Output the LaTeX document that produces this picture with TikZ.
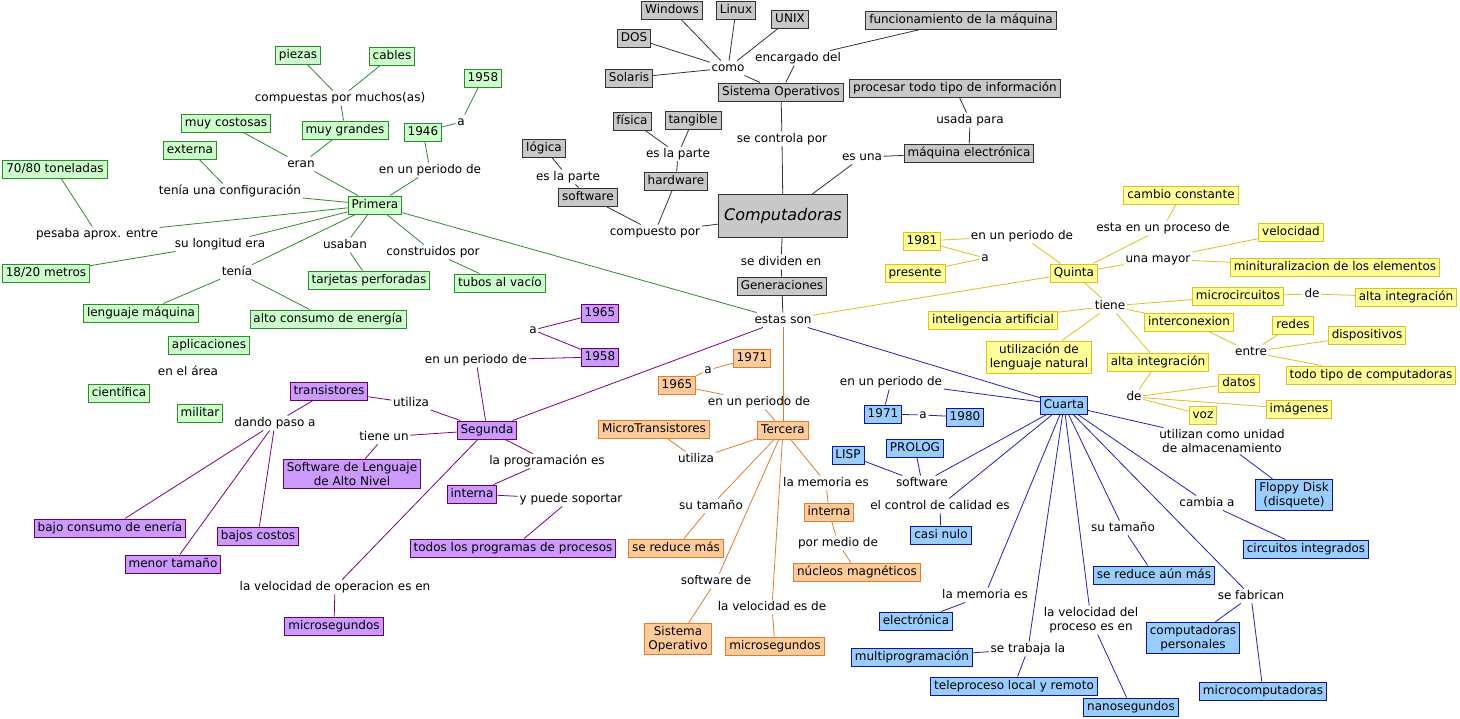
\documentclass[tikz,border=0pt]{standalone}
\usepackage{fontspec}
\setmainfont{DejaVu Sans}
\definecolor{grayF}{HTML}{C8C8C8}
\definecolor{grayD}{HTML}{333333}
\definecolor{greenF}{HTML}{CCFFCC}
\definecolor{greenD}{HTML}{2E8B2E}
\definecolor{yelF}{HTML}{FFFF99}
\definecolor{yelD}{HTML}{E3BE1C}
\definecolor{purF}{HTML}{CC99FF}
\definecolor{purD}{HTML}{660066}
\definecolor{purL}{HTML}{800080}
\definecolor{orF}{HTML}{FFCC99}
\definecolor{orD}{HTML}{E07B2F}
\definecolor{bluF}{HTML}{99CCFF}
\definecolor{bluD}{HTML}{10109A}
\definecolor{bluL}{HTML}{2020C0}
\tikzset{
  every node/.style={font=\fontsize{12}{14}\selectfont, text=black},
  box/.style={draw, rectangle, inner xsep=3.5pt, inner ysep=3.3pt, text height=9pt, text depth=2.5pt, line width=0.9pt},
  mbox/.style={draw, rectangle, inner xsep=3.5pt, inner ysep=3pt, align=center, line width=0.9pt},
  lab/.style={inner sep=1.5pt, text height=9pt, text depth=2.5pt},
  mlab/.style={inner sep=1.5pt, align=center},
  gbox/.style={box, fill=grayF, draw=grayD},
  grbox/.style={box, fill=greenF, draw=greenD},
  ybox/.style={box, fill=yelF, draw=yelD},
  ymbox/.style={mbox, fill=yelF, draw=yelD},
  pbox/.style={box, fill=purF, draw=purD},
  pmbox/.style={mbox, fill=purF, draw=purD},
  obox/.style={box, fill=orF, draw=orD},
  ombox/.style={mbox, fill=orF, draw=orD},
  bbox/.style={box, fill=bluF, draw=bluD},
  bmbox/.style={mbox, fill=bluF, draw=bluD},
  gline/.style={draw=grayD, line width=0.8pt},
  grline/.style={draw=greenD, line width=0.8pt},
  yline/.style={draw=yelD, line width=0.8pt},
  pline/.style={draw=purL, line width=0.8pt},
  oline/.style={draw=orD, line width=0.8pt},
  bline/.style={draw=bluL, line width=0.8pt},
}
\begin{document}
\begin{tikzpicture}[x=1pt, y=-1pt]
\path[use as bounding box, fill=white] (0,0) rectangle (1460,718);

% ---------- gray / central ----------
\node[gbox] (win) at (672,10) {Windows};
\node[gbox] (lin) at (736,10) {Linux};
\node[gbox] (unix) at (790,19) {UNIX};
\node[gbox] (dos) at (634,38) {DOS};
\node[gbox] (sol) at (629,78) {Solaris};
\node[lab] (como) at (728,68) {como};
\node[lab] (enc) at (798,58) {encargado del};
\node[gbox] (func) at (961,20) {funcionamiento de la máquina};
\node[gbox] (so) at (781,92) {Sistema Operativos};
\node[gbox] (proc) at (955,88) {procesar todo tipo de información};
\node[lab] (usada) at (970,120) {usada para};
\node[gbox] (maq) at (969,153) {máquina electrónica};
\node[lab] (esuna) at (862,157) {es una};
\node[lab] (secon) at (782,139) {se controla por};
\node[gbox] (fis) at (632,121) {física};
\node[gbox] (tang) at (693,120) {tangible};
\node[lab] (parte1) at (678,154) {es la parte};
\node[gbox] (hw) at (676,181) {hardware};
\node[gbox] (log) at (544,148) {lógica};
\node[lab] (parte2) at (568,177) {es la parte};
\node[gbox] (sw) at (588,197) {software};
\node[lab] (comp) at (655,232) {compuesto por};
\node[draw=grayD, fill=grayF, line width=0.9pt, minimum width=129pt, minimum height=43pt, font=\fontsize{16}{18}\selectfont\itshape] (C) at (783,216) {Computadoras};
\node[lab] (sediv) at (781,262) {se dividen en};
\node[gbox] (gen) at (782,286) {Generaciones};
\node[lab] (estas) at (783,320) {estas son};

\foreach \a/\b in {win/como, lin/como, unix/como, dos/como, sol/como, como/so,
  so/enc, enc/func, so/secon, secon/C, C/esuna, esuna/maq, maq/usada, usada/proc,
  C/comp, comp/hw, comp/sw, hw/parte1, parte1/fis, parte1/tang, sw/parte2, parte2/log,
  C/sediv, sediv/gen, gen/estas}
  \draw[gline] (\a) -- (\b);

% ---------- green: Primera ----------
\node[grbox] (piezas) at (298,55) {piezas};
\node[grbox] (cables) at (392,56) {cables};
\node[lab] (compuestas) at (340,98) {compuestas por muchos(as)};
\node[grbox] (grandes) at (345,130) {muy grandes};
\node[grbox] (costosas) at (226,123) {muy costosas};
\node[grbox] (externa) at (190,150) {externa};
\node[lab] (eran) at (301,164) {eran};
\node[lab] (config) at (230,191) {tenía una configuración};
\node[grbox] (ton) at (55,169) {70/80 toneladas};
\node[lab] (pesaba) at (97,234) {pesaba aprox. entre};
\node[lab] (longitud) at (220,244) {su longitud era};
\node[grbox] (metros) at (46,273) {18/20 metros};
\node[lab] (tenia) at (237,272) {tenía};
\node[grbox] (lenguaje) at (141,313) {lenguaje máquina};
\node[grbox] (alto) at (328,319) {alto consumo de energía};
\node[lab] (usaban) at (345,245) {usaban};
\node[grbox] (tarjetas) at (369,280) {tarjetas perforadas};
\node[lab] (constr) at (433,252) {construidos por};
\node[grbox] (tubos) at (500,283) {tubos al vacío};
\node[grbox] (P) at (375,205) {Primera};
\node[lab] (periodo1) at (430,170) {en un periodo de};
\node[grbox] (y1946) at (423,132) {1946};
\node[lab] (a1) at (461,122) {a};
\node[grbox] (y1958) at (483,78) {1958};
\node[grbox] (aplic) at (209,345) {aplicaciones};
\node[lab] (area) at (188,372) {en el área};
\node[grbox] (cient) at (119,393) {científica};
\node[grbox] (mil) at (200,413) {militar};

\foreach \a/\b in {piezas/compuestas, cables/compuestas, compuestas/grandes,
  grandes/eran, costosas/eran, eran/P, externa/config, config/P,
  ton/pesaba, pesaba/P, P/longitud, longitud/metros, P/tenia, tenia/lenguaje, tenia/alto,
  P/usaban, usaban/tarjetas, P/constr, constr/tubos, P/periodo1, periodo1/y1946,
  y1946/a1, a1/y1958, P/estas}
  \draw[grline] (\a) -- (\b);

% ---------- purple: Segunda ----------
\node[pbox] (s1965) at (600,313) {1965};
\node[lab] (a2) at (533,330) {a};
\node[pbox] (s1958) at (600,357) {1958};
\node[lab] (periodo2) at (476,360) {en un periodo de};
\node[pbox] (S) at (487,430) {Segunda};
\node[pbox] (trans) at (329,391) {transistores};
\node[lab] (utiliza2) at (411,403) {utiliza};
\node[lab] (dando) at (275,423) {dando paso a};
\node[lab] (tieneun) at (384,437) {tiene un};
\node[pmbox] (softleng) at (352,474) {Software de Lenguaje\\de Alto Nivel};
\node[lab] (prog) at (547,461) {la programación es};
\node[pbox] (interna2) at (472,494) {interna};
\node[lab] (soportar) at (571,499) {y puede soportar};
\node[pbox] (todos) at (513,548) {todos los programas de procesos};
\node[pbox] (bajo) at (110,528) {bajo consumo de enería};
\node[pbox] (bajos) at (258,536) {bajos costos};
\node[pbox] (menor) at (173,564) {menor tamaño};
\node[lab] (veloc2) at (335,587) {la velocidad de operacion es en};
\node[pbox] (micro2) at (334,626) {microsegundos};

\foreach \a/\b in {S/estas, S/periodo2, periodo2/s1958, s1958/a2, a2/s1965,
  S/utiliza2, utiliza2/trans, trans/dando, dando/bajo, dando/menor, dando/bajos,
  S/tieneun, tieneun/softleng, S/prog, prog/interna2, interna2/soportar, soportar/todos,
  S/veloc2, veloc2/micro2}
  \draw[pline] (\a) -- (\b);

% ---------- orange: Tercera ----------
\node[obox] (t1971) at (752,358) {1971};
\node[lab] (a3) at (708,370) {a};
\node[obox] (t1965) at (677,385) {1965};
\node[lab] (periodo3) at (759,402) {en un periodo de};
\node[obox] (T) at (783,430) {Tercera};
\node[obox] (microt) at (654,429) {MicroTransistores};
\node[lab] (utiliza3) at (696,459) {utiliza};
\node[lab] (sutam3) at (711,506) {su tamaño};
\node[obox] (reduce3) at (676,548) {se reduce más};
\node[lab] (swde) at (716,581) {software de};
\node[ombox] (sisop) at (678,639) {Sistema\\Operativo};
\node[lab] (veloc3) at (772,607) {la velocidad es de};
\node[obox] (micro3) at (775,646) {microsegundos};
\node[lab] (mem3) at (826,483) {la memoria es};
\node[obox] (interna3) at (829,512) {interna};
\node[lab] (pormedio) at (838,543) {por medio de};
\node[obox] (nucleos) at (857,572) {núcleos magnéticos};

\foreach \a/\b in {estas/T, T/periodo3, periodo3/t1965, t1965/a3, a3/t1971,
  T/utiliza3, utiliza3/microt, T/sutam3, sutam3/reduce3, T/swde, swde/sisop,
  T/veloc3, veloc3/micro3, T/mem3, mem3/interna3, interna3/pormedio, pormedio/nucleos}
  \draw[oline] (\a) -- (\b);

% ---------- blue: Cuarta ----------
\node[bbox] (Cu) at (1064,405) {Cuarta};
\node[lab] (periodo4) at (891,382) {en un periodo de};
\node[bbox] (c1971) at (883,414) {1971};
\node[lab] (a4) at (923,415) {a};
\node[bbox] (c1980) at (965,417) {1980};
\node[bbox] (lisp) at (848,455) {LISP};
\node[bbox] (prolog) at (915,448) {PROLOG};
\node[lab] (sw4) at (922,483) {software};
\node[lab] (control) at (940,506) {el control de calidad es};
\node[bbox] (casi) at (941,535) {casi nulo};
\node[lab] (mem4) at (985,595) {la memoria es};
\node[bbox] (electr) at (916,621) {electrónica};
\node[lab] (trabaja) at (1028,649) {se trabaja la};
\node[bbox] (multi) at (912,657) {multiprogramación};
\node[bbox] (tele) at (1014,686) {teleproceso local y remoto};
\node[mlab] (veloc4) at (1091,620) {la velocidad del\\proceso es en};
\node[bbox] (nano) at (1131,707) {nanosegundos};
\node[lab] (sutam4) at (1123,528) {su tamaño};
\node[bbox] (reduce4) at (1154,575) {se reduce aún más};
\node[lab] (fabrican) at (1251,596) {se fabrican};
\node[bmbox] (pers) at (1193,638) {computadoras\\personales};
\node[bbox] (microc) at (1263,691) {microcomputadoras};
\node[lab] (cambia) at (1207,503) {cambia a};
\node[bbox] (circ) at (1306,549) {circuitos integrados};
\node[mlab] (almac) at (1222,441) {utilizan como unidad\\de almacenamiento};
\node[bmbox] (floppy) at (1294,495) {Floppy Disk\\(disquete)};

\foreach \a/\b in {estas/Cu, Cu/periodo4, periodo4/c1971, c1971/a4, a4/c1980,
  Cu/sw4, sw4/lisp, sw4/prolog, Cu/control, control/casi, Cu/mem4, mem4/electr,
  Cu/trabaja, trabaja/multi, trabaja/tele, Cu/veloc4, veloc4/nano,
  Cu/sutam4, sutam4/reduce4, Cu/fabrican, fabrican/pers, fabrican/microc,
  Cu/cambia, cambia/circ, Cu/almac, almac/floppy}
  \draw[bline] (\a) -- (\b);

% ---------- yellow: Quinta ----------
\node[ybox] (Q) at (1074,273) {Quinta};
\node[ybox] (y1981) at (922,241) {1981};
\node[lab] (periodo5) at (1022,236) {en un periodo de};
\node[lab] (a5) at (985,258) {a};
\node[ybox] (presente) at (915,273) {presente};
\node[lab] (proceso) at (1163,228) {esta en un proceso de};
\node[ybox] (cambio) at (1181,195) {cambio constante};
\node[lab] (mayor) at (1158,259) {una mayor};
\node[ybox] (veloc5) at (1291,232) {velocidad};
\node[ybox] (minit) at (1335,267) {minituralizacion de los elementos};
\node[lab] (tiene5) at (1110,306) {tiene};
\node[ybox] (microc5) at (1238,296) {microcircuitos};
\node[lab] (de5) at (1312,294) {de};
\node[ybox] (altaint) at (1406,297) {alta integración};
\node[ybox] (intel) at (993,320) {inteligencia artificial};
\node[ymbox] (util) at (1039,357) {utilización de\\lenguaje natural};
\node[ybox] (interc) at (1189,322) {interconexion};
\node[ybox] (redes) at (1293,325) {redes};
\node[ybox] (dispos) at (1367,335) {dispositivos};
\node[lab] (entre) at (1251,352) {entre};
\node[ybox] (todotipo) at (1371,375) {todo tipo de computadoras};
\node[ybox] (altaint2) at (1158,362) {alta integración};
\node[lab] (de6) at (1134,397) {de};
\node[ybox] (datos) at (1239,383) {datos};
\node[ybox] (imag) at (1299,409) {imágenes};
\node[ybox] (voz) at (1203,415) {voz};

\foreach \a/\b in {estas/Q, Q/periodo5, periodo5/y1981, y1981/a5, a5/presente,
  Q/proceso, proceso/cambio, Q/mayor, mayor/veloc5, mayor/minit,
  Q/tiene5, tiene5/microc5, microc5/de5, de5/altaint, tiene5/intel, tiene5/util,
  tiene5/interc, interc/entre, entre/redes, entre/dispos, entre/todotipo,
  tiene5/altaint2, altaint2/de6, de6/datos, de6/imag, de6/voz}
  \draw[yline] (\a) -- (\b);
\end{tikzpicture}
\end{document}
